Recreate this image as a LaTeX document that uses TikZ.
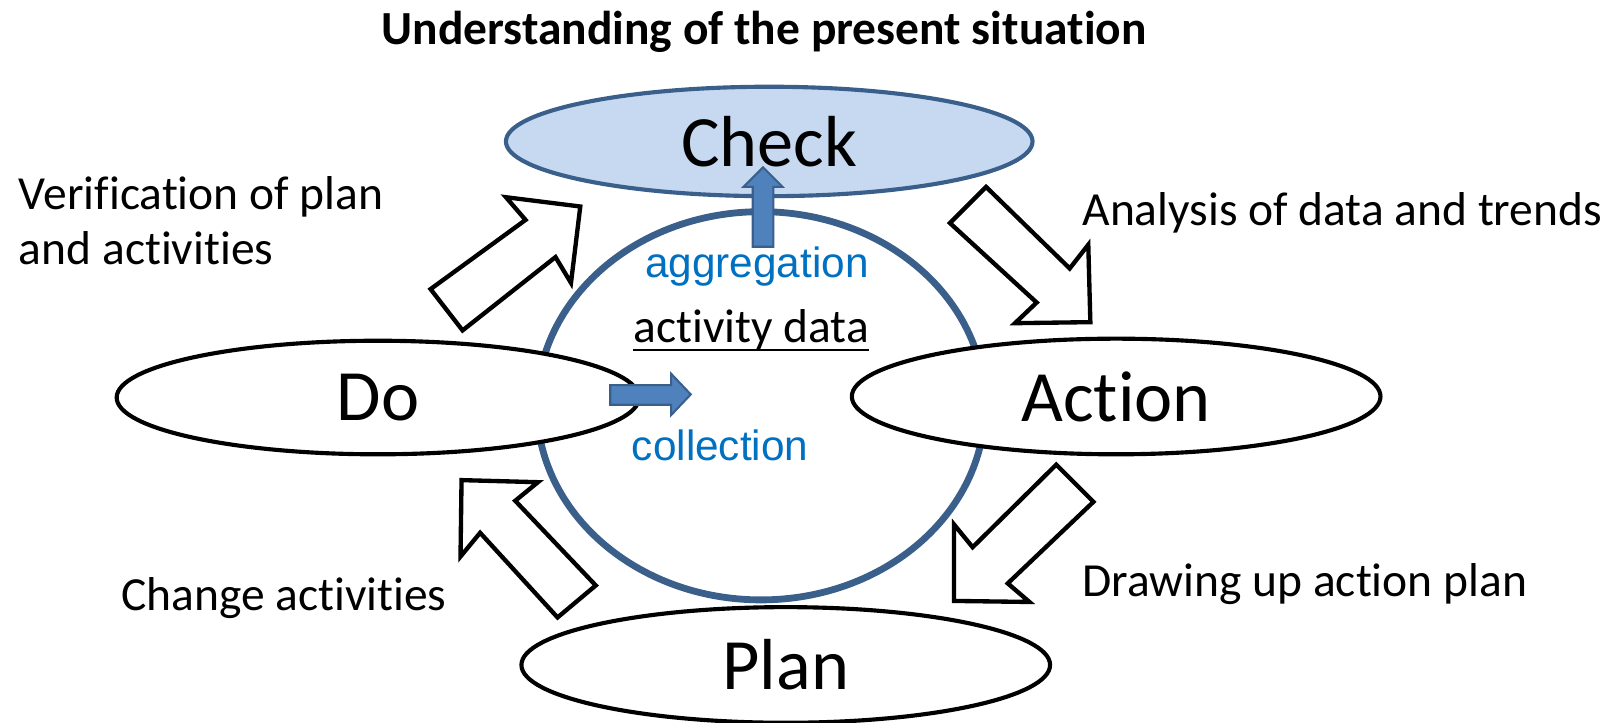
\documentclass[tikz,border=0pt]{standalone}
\usepackage{fontspec}
\setmainfont{Carlito}[Ligatures={NoCommon,NoContextual}]
\newfontfamily\arialfont{Liberation Sans}
\usetikzlibrary{shapes.geometric}
\definecolor{checkfill}{HTML}{C6D9F1}
\definecolor{ringblue}{HTML}{3A5F8B}
\definecolor{arrowblue}{HTML}{4F81BD}
\definecolor{textblue}{HTML}{0070C0}

\begin{document}
\begin{tikzpicture}[x=0.5pt,y=-0.5pt,
        phase/.style={ellipse, draw=black, fill=white, line width=2pt, inner sep=0pt,
            font=\fontsize{35}{42}\selectfont},
        hollow/.style={draw=black, fill=white, line width=2.1pt},
        flow/.style={draw=ringblue, fill=arrowblue, line width=1pt},
        lbl/.style={inner sep=0pt, font=\fontsize{23}{26.5}\selectfont},
        bluelbl/.style={inner sep=0pt, text=textblue, font=\arialfont\fontsize{20.5}{24}\selectfont}]
        \useasboundingbox (0,0) rectangle (1568,700);

        \node[lbl, font=\bfseries\fontsize{23}{27}\selectfont, anchor=base] (title) at (740,43) {Understanding of the present situation};

        % ring and the four phases
        \node[ellipse, draw=ringblue, line width=3.3pt, minimum width=217pt, minimum height=188pt] (ring) at (737,393) {};
        \node[phase, draw=ringblue, fill=checkfill, line width=2pt, minimum width=255pt, minimum height=53pt] (check) at (745,137) {Check};
        \node[phase, minimum width=253pt, minimum height=55pt] (do) at (366,385) {Do};
        \node[phase, minimum width=256pt, minimum height=56pt] (action) at (1081,384) {Action};
        \node[phase, minimum width=256pt, minimum height=56pt] (plan) at (761,644) {Plan};

        % hollow arrows of the cycle
        \draw[hollow] (417,280) -- (509,213) -- (490,191) -- (562,200) -- (553,274) -- (538,249) -- (448,320) -- cycle;
        \draw[hollow] (955,181) -- (1036,260) -- (1054,237) -- (1056,312) -- (983,313) -- (1004,293) -- (920,216) -- cycle;
        \draw[hollow] (1023,450) -- (1059,486) -- (976,565) -- (997,583) -- (924,582) -- (924,508) -- (942,530) -- cycle;
        \draw[hollow] (447,465) -- (521,467) -- (499,485) -- (577,567) -- (540,598) -- (465,516) -- (446,539) -- cycle;

        % data flow
        \draw[flow] (729,239) -- (729,181) -- (720,181) -- (739,162) -- (758,181) -- (749,181) -- (749,239) -- cycle;
        \draw[flow] (591,373) -- (650,373) -- (650,362) -- (669,382) -- (650,402) -- (650,392) -- (591,392) -- cycle;

        \node[bluelbl, anchor=base] (aggr) at (733,269) {aggregation};
        \node[lbl, anchor=base] (actdata) at (727.5,332) {activity data};
        \draw[line width=1.2pt] ([yshift=-3.5pt]actdata.base west) -- ([yshift=-3.5pt]actdata.base east);
        \node[bluelbl, anchor=base] (coll) at (697.5,446) {collection};

        \node[lbl, anchor=north west, align=left] (verify) at (18,171) {Verification of plan\\and activities};
        \node[lbl, anchor=base west] (analysis) at (1048,218) {Analysis of data and trends};
        \node[lbl, anchor=base west] (drawing) at (1048,578) {Drawing up action plan};
        \node[lbl, anchor=base west] (change) at (117,591) {Change activities};
    \end{tikzpicture}
\end{document}
